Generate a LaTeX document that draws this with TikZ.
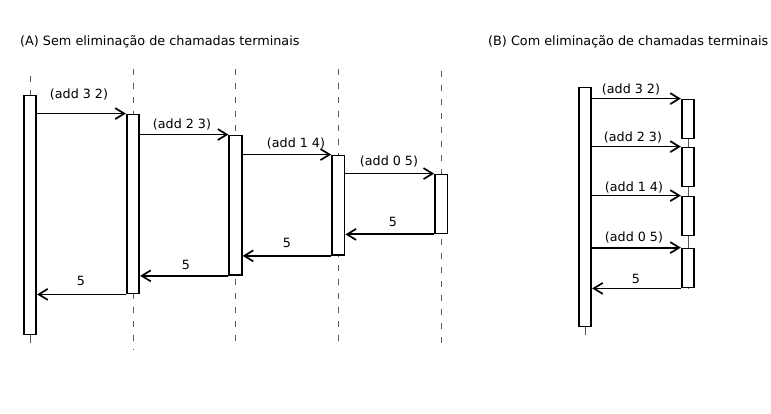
\documentclass[tikz,border=0pt]{standalone}
\usepackage{fontspec}
\setmainfont{DejaVu Sans}
\usetikzlibrary{arrows.meta}
\begin{document}
\begin{tikzpicture}[x=1pt,y=-1pt,
  box/.style={draw, fill=white, line width=1.8pt, minimum width=12.5pt, inner sep=0pt},
  life/.style={draw=black!65, line width=0.9pt, dash pattern=on 6pt off 8pt},
  solidlife/.style={draw=black!65, line width=0.9pt},
  msg/.style={line width=1.8pt, -{Straight Barb[length=9pt,width=11pt,line width=1.7pt]}},
  lbl/.style={font=\fontsize{12.7}{15}\selectfont, inner sep=0pt},
  ttl/.style={font=\fontsize{12.8}{15}\selectfont, inner sep=0pt, anchor=west}]
\useasboundingbox (0,0) rectangle (771,414);
% titles
\node[ttl] (ta) at (20,41.5) {(A) Sem eliminação de chamadas terminais};
\node[ttl] (tb) at (488,41.5) {(B) Com eliminação de chamadas terminais};
% lifelines A
\coordinate (t1) at (30,76);   \coordinate (u1) at (30,343);
\coordinate (t2) at (133,69);  \coordinate (u2) at (133,350);
\coordinate (t3) at (235.5,69);\coordinate (u3) at (235.5,348);
\coordinate (t4) at (338.3,69);\coordinate (u4) at (338.3,343);
\coordinate (t5) at (441.3,71);\coordinate (u5) at (441.3,350);
\draw[life] (t1) -- (u1);
\draw[life] (t2) -- (u2);
\draw[life] (t3) -- (u3);
\draw[life] (t4) -- (u4);
\draw[life] (t5) -- (u5);
\coordinate (w1) at (30,335);
\draw[solidlife] (w1) -- (u1);
% boxes A
\node[box, minimum height=239pt] (a1) at (30,215) {};
\node[box, minimum height=179pt] (a2) at (133,204) {};
\node[box, minimum height=139.5pt] (a3) at (235.5,205.2) {};
\node[box, minimum height=99.5pt] (a4) at (338.3,205.2) {};
\node[box, minimum height=59pt] (a5) at (441.3,204) {};
% calls A
\draw[msg] (a1.east |- a2.north) -- (a2.north west);
\draw[msg] (a2.east |- a3.north) -- (a3.north west);
\draw[msg] (a3.east |- a4.north) -- (a4.north west);
\draw[msg] (a4.east |- a5.north) -- (a5.north west);
% returns A
\draw[msg] (a5.south west) -- (a4.east |- a5.south);
\draw[msg] (a4.south west) -- (a3.east |- a4.south);
\draw[msg] (a3.south west) -- (a2.east |- a3.south);
\draw[msg] (a2.south west) -- (a1.east |- a2.south);
% labels A
\node[lbl] (c1) at (79,95) {(add 3 2)};
\node[lbl] (c2) at (182,125) {(add 2 3)};
\node[lbl] (c3) at (296,144) {(add 1 4)};
\node[lbl] (c4) at (389,162) {(add 0 5)};
\node[lbl] (r1) at (393,222) {5};
\node[lbl] (r2) at (287,243) {5};
\node[lbl] (r3) at (186,265) {5};
\node[lbl] (r4) at (81,281) {5};
% B lifelines
\coordinate (mt) at (585,335);
\coordinate (bt) at (688,120);
\coordinate (bb) at (688,289);
\draw[solidlife] (bt) -- (bb);
% boxes B
\node[box, minimum height=239pt] (m) at (585,207) {};
\draw[solidlife] (m.south) -- (mt);
\node[box, minimum height=39pt] (b1) at (688,119) {};
\node[box, minimum height=39pt] (b2) at (688,167) {};
\node[box, minimum height=39pt] (b3) at (688,216) {};
\node[box, minimum height=39pt] (b4) at (688,268) {};
% calls B
\draw[msg] (m.east |- b1.north) -- (b1.north west);
\draw[msg] (m.east |- b2.north) -- (b2.north west);
\draw[msg] (m.east |- b3.north) -- (b3.north west);
\draw[msg] (m.east |- b4.north) -- (b4.north west);
\draw[msg] (b4.south west) -- (m.east |- b4.south);
% labels B
\node[lbl] (d1) at (631,89.5) {(add 3 2)};
\node[lbl] (d2) at (633,138) {(add 2 3)};
\node[lbl] (d3) at (634,188) {(add 1 4)};
\node[lbl] (d4) at (634,238) {(add 0 5)};
\node[lbl] (d5) at (636,279) {5};
\end{tikzpicture}
\end{document}
